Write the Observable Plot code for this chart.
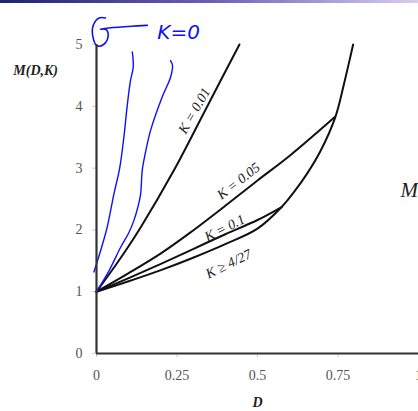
<!DOCTYPE html>
<html><head><meta charset="utf-8">
<script src="https://cdn.jsdelivr.net/npm/d3@7"></script>
<script src="https://cdn.jsdelivr.net/npm/@observablehq/plot@0.6"></script>
<style>
body{margin:0;background:#fff;}
#wrap{position:relative;width:418px;height:411px;overflow:hidden;}
#bar{position:absolute;left:0;top:0;width:418px;height:3px;background:linear-gradient(to right,#1e2370,#6a5fb5 50%,#d9cdf0);z-index:2;}
</style></head><body><div id="wrap"><div id="bar"></div></div>
<script>
// Tick values and labels
const xTicks = [0, 0.25, 0.5, 0.75, 1];
const xTickLabels = ["0", "0.25", "0.5", "0.75", "1"];
const yTicks = [0, 1, 2, 3, 4, 5];
const yTickLabels = ["0", "1", "2", "3", "4", "5"];

// Black curves M(D,K)
const k001D = [0, 0.069, 0.137, 0.24, 0.343, 0.444];
const k001M = [1, 1.5, 2.04, 2.96, 3.99, 5.0];
const k005D = [0, 0.1, 0.2, 0.292, 0.4, 0.5, 0.6, 0.741];
const k005M = [1, 1.3, 1.62, 1.96, 2.39, 2.8, 3.2, 3.83];
const k01D = [0, 0.1, 0.2, 0.3, 0.4, 0.5, 0.575];
const k01M = [1, 1.22, 1.45, 1.69, 1.93, 2.16, 2.37];
const k427D = [0, 0.1, 0.2, 0.3, 0.4, 0.5, 0.575, 0.613, 0.654, 0.696, 0.742, 0.768, 0.797];
const k427M = [1, 1.17, 1.35, 1.55, 1.77, 2.02, 2.37, 2.61, 2.91, 3.28, 3.83, 4.35, 5.0];

// Hand-drawn blue curves (K = 0 annotation)
const blue1D = [-0.008, 0.012, 0.033, 0.054, 0.072, 0.085, 0.095, 0.105, 0.114, 0.113, 0.111];
const blue1M = [1.32, 1.65, 2.04, 2.58, 3.0, 3.5, 3.99, 4.4, 4.63, 4.8, 4.88];
const blue2D = [0, 0.04, 0.075, 0.1, 0.116, 0.13, 0.137, 0.142, 0.15, 0.168, 0.204, 0.23, 0.236, 0.23];
const blue2M = [1, 1.35, 1.72, 1.95, 2.15, 2.4, 2.58, 2.96, 3.2, 3.61, 4.15, 4.47, 4.66, 4.74];
const loopD = [0.028, 0.008, -0.010, -0.011, 0.002, 0.022, 0.036, 0.030, 0.012, 0.043, 0.158];
const loopM = [5.43, 5.43, 5.31, 5.12, 4.98, 5.0, 5.13, 5.24, 5.25, 5.27, 5.31];

// Curve labels
const labelText = ["K = 0.01", "K = 0.05", "K = 0.1", "K \u2265 4/27"];
const labelD = [0.304, 0.441, 0.398, 0.41];
const labelM = [3.93, 2.79, 2.03, 1.45];
const labelRot = [-60, -38, -27, -26];

const pts = (D, M) => D.map((d, i) => ({D: d, M: M[i]}));
const labels = labelText.map((t, i) => ({t, D: labelD[i], M: labelM[i], r: labelRot[i]}));

const black = {x: "D", y: "M", stroke: "#111", strokeWidth: 2, curve: "catmull-rom"};
const blue = {x: "D", y: "M", stroke: "#1010f5", strokeWidth: 1.4, curve: "catmull-rom"};

const chart = Plot.plot({
  width: 418, height: 411,
  marginLeft: 96, marginRight: 0, marginTop: 44, marginBottom: 58,
  x: {domain: [0, 1]},
  y: {domain: [0, 5]},
  style: {fontFamily: "'Liberation Serif', 'Times New Roman', serif", background: "transparent"},
  marks: [
    Plot.axisY(yTicks, {tickSize: 4, tickPadding: 10, stroke: "#ccc", fill: "#555", fontSize: 14, label: null,
      tickFormat: d => yTickLabels[yTicks.indexOf(d)]}),
    Plot.axisX(xTicks, {tickSize: 4, tickPadding: 13, stroke: "#ccc", fill: "#555", fontSize: 14, label: null,
      tickFormat: d => xTickLabels[xTicks.indexOf(d)]}),
    Plot.line(pts(k001D, k001M), black),
    Plot.line(pts(k005D, k005M), black),
    Plot.line(pts(k01D, k01M), black),
    Plot.line(pts(k427D, k427M), black),
    Plot.line(pts(blue1D, blue1M), blue),
    Plot.line(pts(blue2D, blue2M), blue),
    Plot.line(pts(loopD, loopM), {...blue, strokeWidth: 1.6}),
    Plot.text(["K=0"], {x: 0.189, y: 5.2, text: d => d, fill: "#1010f5", fontSize: 20, textAnchor: "start",
      fontFamily: "'DejaVu Sans', sans-serif", fontStyle: "italic"}),
    Plot.text(labels, {x: "D", y: "M", text: "t", rotate: "r", fontSize: 14, fontStyle: "italic", fill: "#222"}),
    Plot.text(["M(D,K)"], {x: -0.189, y: 4.58, text: d => d, fontSize: 14, fontStyle: "italic", fontWeight: "bold", fill: "#222"}),
    Plot.text(["D"], {x: 0.5, y: -0.79, text: d => d, fontSize: 14, fontStyle: "italic", fontWeight: "bold", fill: "#222"}),
    Plot.text(["M"], {x: 0.944, y: 2.64, text: d => d, fontSize: 21, fontStyle: "italic", fill: "#222", textAnchor: "start"}),
    Plot.ruleX([0], {y1: 0, y2: 5, stroke: "#333", strokeWidth: 2.2}),
    Plot.ruleY([0], {x1: 0, x2: 1, stroke: "#333", strokeWidth: 2.2})
  ]
});
document.getElementById("wrap").appendChild(chart);
</script></body></html>
